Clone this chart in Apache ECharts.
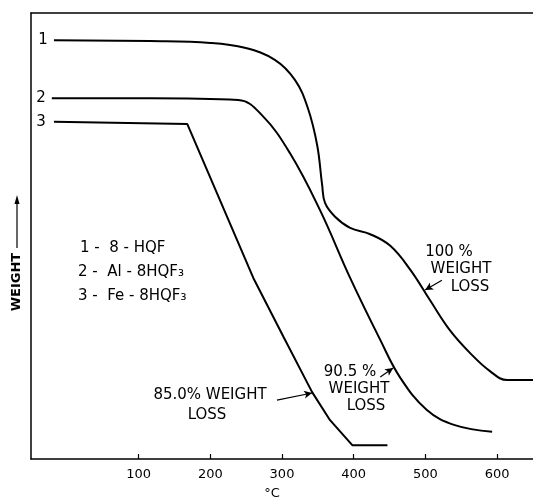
<!DOCTYPE html>
<html>
<head>
<meta charset="utf-8">
<script src="https://cdn.jsdelivr.net/npm/echarts@6/dist/echarts.min.js"></script>
<style>
  html, body { margin: 0; padding: 0; background: #fff; }
  #main { width: 533px; height: 501px; }
</style>
</head>
<body>
<div id="main"></div>
<script>
// temperature (°C) ticks
var tempTicks = [100, 200, 300, 400, 500, 600];

// [temperature, relative weight]
var curve1 = [[-18, 93.9], [116, 93.7], [200, 93.3], [248, 92.2], [290, 89.5], [318, 85], [336, 78.7],
  [349, 70.4], [356, 61.4], [360, 57.4], [374, 54.3], [395, 51.8], [423, 50.4], [451, 47.8],
  [479, 42.4], [506, 35.7], [534, 28.9], [562, 23.8], [590, 19.7], [614, 17.7], [650, 17.7]];
var curve2 = [[-21, 80.9], [116, 80.9], [239, 80.5], [272, 77.1], [311, 68.6], [353, 55.8], [395, 40.6],
  [437, 26.7], [465, 18.2], [502, 11], [541, 7.6], [593, 6.1]];
var curve3 = [[-18, 75.6], [168, 75.1], [260, 40.6], [302, 27.4], [342, 15], [367, 8.7], [398, 3.1], [447, 3.1]];

var font = 'DejaVu Sans';
var ink = '#000';

function arrow(from, to) {
  return {
    silent: true,
    symbol: ['none', 'arrow'],
    symbolSize: [6, 8],
    label: { show: false },
    lineStyle: { color: ink, width: 1.2, type: 'solid' },
    data: [[{ coord: from }, { coord: to }]]
  };
}

function txt(x, y, s, size) {
  return {
    type: 'text', x: x, y: y,
    style: { text: s, fill: ink, font: (size || 15) + 'px "' + font + '"', align: 'center', verticalAlign: 'middle' }
  };
}

var chart = echarts.init(document.getElementById('main'));
chart.setOption({
  animation: false,
  backgroundColor: '#fff',
  grid: { left: 31, right: 0, top: 13, bottom: 42 },
  xAxis: [{
    type: 'value', min: -50, max: 650,
    axisLine: { show: true, onZero: false, lineStyle: { color: ink, width: 1.5 } },
    axisTick: { show: true, inside: true, length: 5, customValues: tempTicks, lineStyle: { color: ink, width: 1.2 } },
    axisLabel: { customValues: tempTicks, color: ink, fontFamily: font, fontSize: 13, margin: 9 },
    splitLine: { show: false }
  }, {
    type: 'value', min: -50, max: 650, position: 'top',
    axisLine: { show: true, onZero: false, lineStyle: { color: ink, width: 1.5 } },
    axisTick: { show: false }, axisLabel: { show: false }, splitLine: { show: false }
  }],
  yAxis: {
    type: 'value', min: 0, max: 100,
    axisLine: { show: true, onZero: false, lineStyle: { color: ink, width: 1.5 } },
    axisTick: { show: false }, axisLabel: { show: false }, splitLine: { show: false }
  },
  series: [{
    name: '8-HQF', type: 'line', data: curve1, showSymbol: false,
    smooth: 0.4,
    lineStyle: { color: ink, width: 2 },
    markLine: arrow([523, 40.1], [499.5, 37.9])
  }, {
    name: 'Al-8HQF3', type: 'line', data: curve2, showSymbol: false,
    smooth: 0.4,
    lineStyle: { color: ink, width: 2 },
    markLine: arrow([437, 18.4], [455, 20.4])
  }, {
    name: 'Fe-8HQF3', type: 'line', data: curve3, showSymbol: false,
    lineStyle: { color: ink, width: 2 },
    markLine: arrow([293, 13.2], [342, 14.8])
  }],
  graphic: [
    txt(43, 40, '1'), txt(41, 98, '2'), txt(41, 122, '3'),
    { type: 'text', x: 80, y: 248, style: { text: '1 -  8 - HQF', fill: ink, font: '15px "' + font + '"', verticalAlign: 'middle' } },
    { type: 'text', x: 78, y: 272, style: { text: '2 -  Al - 8HQF₃', fill: ink, font: '15px "' + font + '"', verticalAlign: 'middle' } },
    { type: 'text', x: 78, y: 296, style: { text: '3 -  Fe - 8HQF₃', fill: ink, font: '15px "' + font + '"', verticalAlign: 'middle' } },
    txt(449, 252, '100 %'), txt(461, 269, 'WEIGHT'), txt(470, 287, 'LOSS'),
    txt(350, 372, '90.5 %'), txt(359, 389, 'WEIGHT'), txt(366, 406, 'LOSS'),
    txt(210, 395, '85.0% WEIGHT'), txt(207, 415, 'LOSS'),
    txt(272, 494, '°C', 13),
    {
      type: 'text', x: 17, y: 282, rotation: Math.PI / 2,
      style: { text: 'WEIGHT', fill: ink, font: 'bold 13px "' + font + '"', align: 'center', verticalAlign: 'middle' }
    },
    { type: 'line', shape: { x1: 17, y1: 248, x2: 17, y2: 202 }, style: { stroke: ink, lineWidth: 1.2 } },
    { type: 'polygon', shape: { points: [[17, 195], [14.5, 204], [19.5, 204]] }, style: { fill: ink } }
  ]
});
</script>
</body>
</html>
